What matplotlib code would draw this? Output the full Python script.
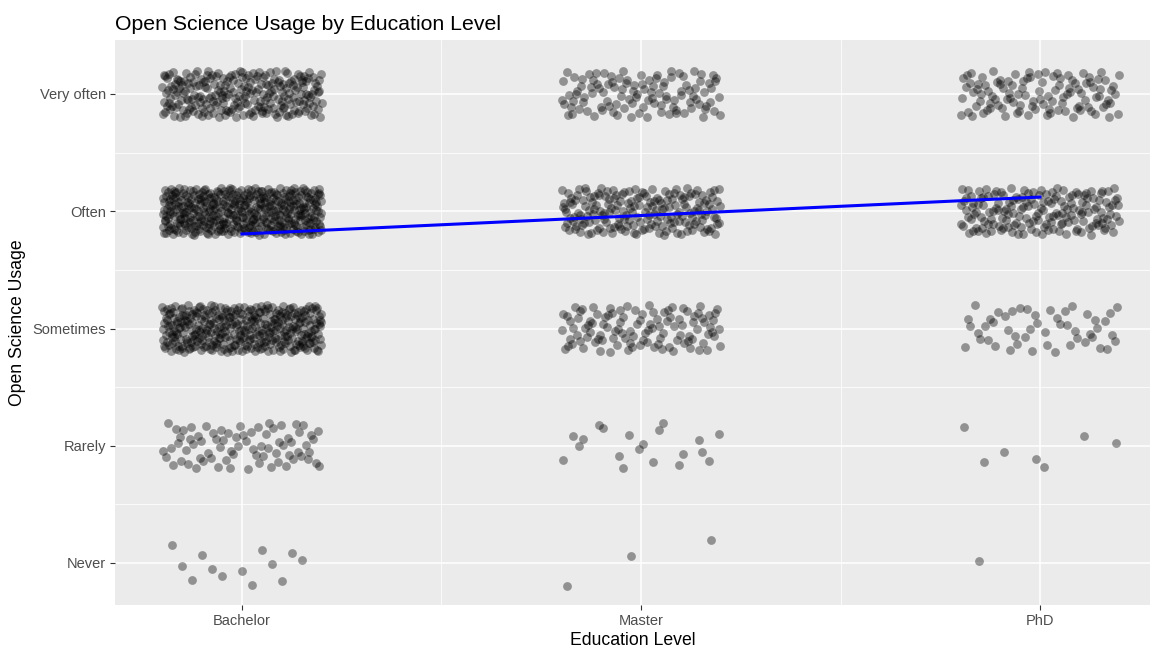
import numpy as np
import matplotlib
matplotlib.use("Agg")
import matplotlib.pyplot as plt

plt.rcParams['font.family'] = ['Liberation Sans', 'DejaVu Sans']

# ---- data ----
education = ["Bachelor", "Master", "PhD"]
usage_levels = ["Never", "Rarely", "Sometimes", "Often", "Very often"]
# number of respondents per (education, usage level)
counts_bachelor = [13, 75, 360, 420, 240]
counts_master = [3, 20, 110, 190, 110]
counts_phd = [1, 7, 50, 170, 110]
# linear fit (geom_smooth, method = lm) evaluated at Bachelor and PhD
fit_x = [1, 3]
fit_y = [3.806, 4.121]

title = "Open Science Usage by Education Level"
xlabel = "Education Level"
ylabel = "Open Science Usage"

# ---- deterministic jitter (low-discrepancy sequence instead of random) ----
def halton(i, base):
    f, r = 1.0, 0.0
    while i > 0:
        f /= base
        r += f * (i % base)
        i //= base
    return r

JW, JH = 0.2, 0.2
xs, ys = [], []
start = 1
for ei, cnts in enumerate([counts_bachelor, counts_master, counts_phd]):
    for li, n in enumerate(cnts):
        for k in range(n):
            idx = start + k
            xs.append(ei + 1 + JW * (2 * halton(idx, 2) - 1))
            ys.append(li + 1 + JH * (2 * halton(idx, 3) - 1))
        start += n + 37

W, H = 1156, 649
fig = plt.figure(figsize=(W / 100, H / 100), dpi=100)
left, right, top, bottom = 115, 1150, 40, 605
ax = fig.add_axes([left / W, (H - bottom) / H, (right - left) / W, (bottom - top) / H])
ax.set_facecolor("#EBEBEB")

ax.set_xlim(1 - (242 - left) / 399, 3 + (right - 1040) / 399)
ax.set_ylim(1 - (bottom - 563) / 117.25, 5 + (94 - top) / 117.25)

ax.set_xticks([1, 2, 3])
ax.set_xticklabels(education)
ax.set_yticks([1, 2, 3, 4, 5])
ax.set_yticklabels(usage_levels)
ax.set_xticks([1.5, 2.5], minor=True)
ax.set_yticks([1.5, 2.5, 3.5, 4.5], minor=True)

ax.grid(which="major", color="white", linewidth=1.1)
ax.grid(which="minor", color="white", linewidth=0.55)
ax.set_axisbelow(True)
for s in ax.spines.values():
    s.set_visible(False)

ax.tick_params(which="major", length=3.5, width=0.8, color="#333333",
               labelsize=10.5, labelcolor="#4D4D4D", pad=3)
ax.tick_params(which="minor", length=0)

ax.scatter(xs, ys, s=40, color="black", alpha=0.38, linewidths=0, zorder=3)
ax.plot(fit_x, fit_y, color="#0000FF", linewidth=2.2, zorder=4)

ax.set_xlabel(xlabel, fontsize=12.7, color="black", labelpad=3)
ax.set_ylabel(ylabel, fontsize=12.7, color="black", labelpad=5)
fig.text(left / W, 1 - 25 / H, title, fontsize=15.3, ha="left", va="center", color="black")

fig.savefig("out.png", dpi=100, facecolor="white")
